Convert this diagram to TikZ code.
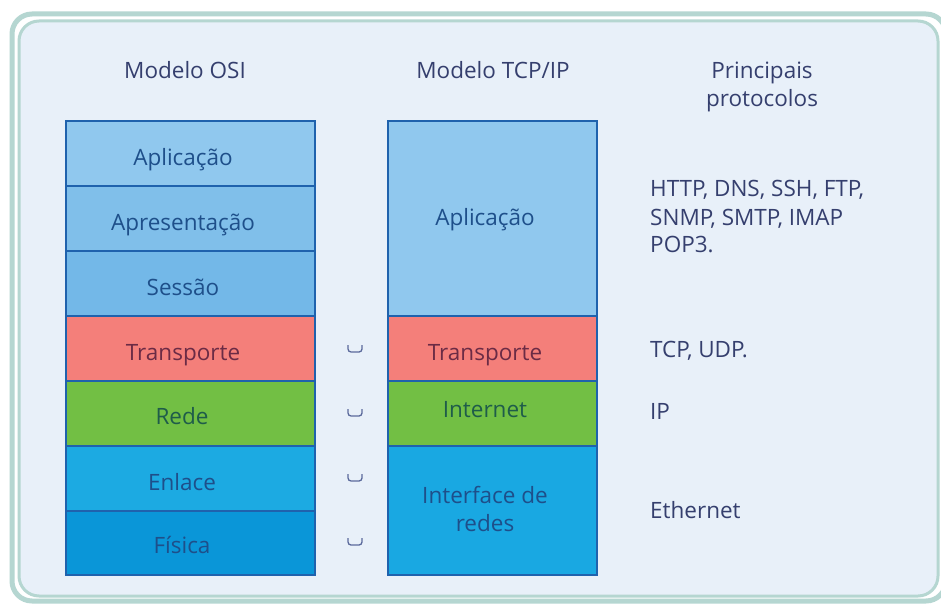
\documentclass[tikz,border=0pt]{standalone}
\usepackage{fontspec}
\setmainfont{Open Sans}
\begin{document}
\begin{tikzpicture}[x=1pt,y=-1pt,
  frame/.style={draw=frameC,rounded corners=20pt},
  box/.style={draw=edgeC,line width=1.4pt,inner sep=0pt},
  lbl/.style={text=laytxt,font=\fontsize{22.5}{28}\selectfont,anchor=base,inner sep=0pt},
  head/.style={text=headC,font=\fontsize{22.5}{28}\selectfont,anchor=base,inner sep=0pt},
  proto/.style={text=headC,font=\fontsize{22.5}{28}\selectfont,anchor=base west,inner sep=0pt},
  bracket/.style={draw=brkC,line width=1.3pt,rounded corners=3pt}
]
\definecolor{frameC}{HTML}{B5D6D1}
\definecolor{bgC}{HTML}{E8F0F9}
\definecolor{edgeC}{HTML}{1F62AD}
\definecolor{laytxt}{HTML}{1E4F8A}
\definecolor{traTxt}{HTML}{6B2B45}
\definecolor{redTxt}{HTML}{1F5C4A}
\definecolor{headC}{HTML}{353F6E}
\definecolor{brkC}{HTML}{5B6A9C}
\definecolor{cApl}{HTML}{90C8EE}
\definecolor{cApr}{HTML}{80BFEA}
\definecolor{cSes}{HTML}{73B8E8}
\definecolor{cTra}{HTML}{F47F7A}
\definecolor{cRed}{HTML}{72BF44}
\definecolor{cEnl}{HTML}{1CAAE2}
\definecolor{cFis}{HTML}{0A96D8}
\definecolor{cInt}{HTML}{19A8E2}

\useasboundingbox (0,0) rectangle (941,604);
\fill[white] (0,0) rectangle (941,604);

% double rounded frame
\draw[frame,line width=5pt] (12,14) rectangle (946,601);
\draw[frame,line width=3pt,fill=bgC] (19,21) rectangle (938,596);

% column headings
\node[head] (hosi) at (185,79) {Modelo OSI};
\node[head] (htcp) at (493,79) {Modelo TCP/IP};
\node[head] (hpro1) at (762,79) {Principais};
\node[head] (hpro2) at (762,107) {protocolos};

% OSI stack
\node[box,fill=cApl,minimum width=249pt,minimum height=65pt] (oapl) at (190.5,153.5) {};
\node[box,fill=cApr,minimum width=249pt,minimum height=65pt] (oapr) at (190.5,218.5) {};
\node[box,fill=cSes,minimum width=249pt,minimum height=65pt] (oses) at (190.5,283.5) {};
\node[box,fill=cTra,minimum width=249pt,minimum height=65pt] (otra) at (190.5,348.5) {};
\node[box,fill=cRed,minimum width=249pt,minimum height=65pt] (ored) at (190.5,413.5) {};
\node[box,fill=cEnl,minimum width=249pt,minimum height=65pt] (oenl) at (190.5,478.5) {};
\node[box,fill=cFis,minimum width=249pt,minimum height=64pt] (ofis) at (190.5,543) {};

\node[lbl] (toapl) at (183,165) {Aplicação};
\node[lbl] (toapr) at (183,230) {Apresentação};
\node[lbl] (toses) at (183,295) {Sessão};
\node[lbl,text=traTxt] (totra) at (183,360) {Transporte};
\node[lbl,text=redTxt] (tored) at (182,424) {Rede};
\node[lbl] (toenl) at (182,490) {Enlace};
\node[lbl] (tofis) at (182,553) {Física};

% TCP/IP stack
\node[box,fill=cApl,minimum width=209pt,minimum height=195pt] (tapl) at (492.5,218.5) {};
\node[box,fill=cTra,minimum width=209pt,minimum height=65pt] (ttra) at (492.5,348.5) {};
\node[box,fill=cRed,minimum width=209pt,minimum height=65pt] (tint) at (492.5,413.5) {};
\node[box,fill=cInt,minimum width=209pt,minimum height=129pt] (tifr) at (492.5,510.5) {};

\node[lbl] (ttapl) at (485,225) {Aplicação};
\node[lbl,text=traTxt] (tttra) at (485,360) {Transporte};
\node[lbl,text=redTxt] (ttint) at (485,417) {Internet};
\node[lbl] (ttifr1) at (485,503) {Interface de};
\node[lbl] (ttifr2) at (485,531) {redes};

% small brackets between the stacks
\foreach \y/\n in {349/b1,413/b2,478/b3,542/b4}{
  \coordinate (\n) at (355,\y);
  \draw[bracket] ([shift={(-7,-4)}]\n) -- ([shift={(-7,3)}]\n) -- ([shift={(7,3)}]\n) -- ([shift={(7,-4)}]\n);
}

% protocols
\node[proto] (papl1) at (650,196) {HTTP, DNS, SSH, FTP,};
\node[proto] (papl2) at (650,225) {SNMP, SMTP, IMAP};
\node[proto] (papl3) at (650,252) {POP3.};
\node[proto] (ptra) at (650,357) {TCP, UDP.};
\node[proto] (pint) at (650,419) {IP};
\node[proto] (peth) at (650,518) {Ethernet};
\end{tikzpicture}
\end{document}
